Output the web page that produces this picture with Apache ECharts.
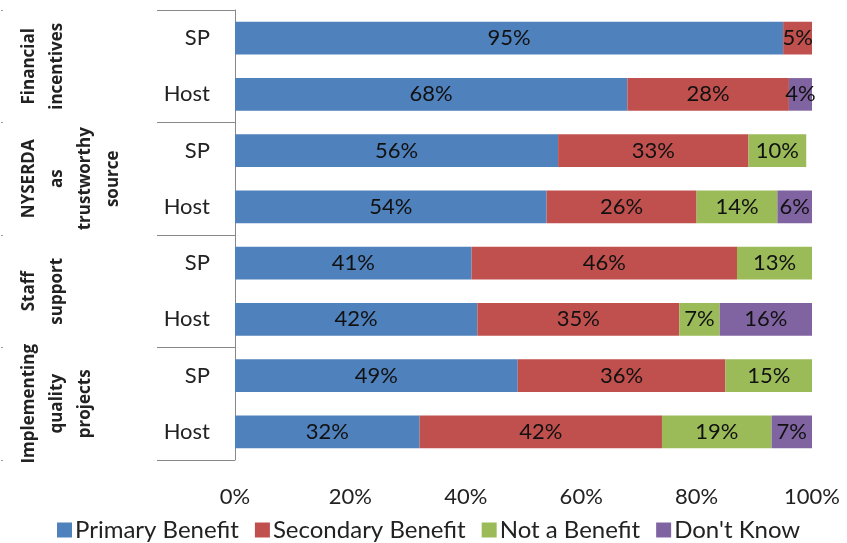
<!DOCTYPE html>
<html>
<head>
<meta charset="utf-8">
<script src="https://cdn.jsdelivr.net/npm/echarts@6/dist/echarts.min.js"></script>
<style>
  html, body { margin: 0; padding: 0; background: #fff; }
  #chart { width: 847px; height: 543px; }
</style>
</head>
<body>
<div id="chart"></div>
<script>
// Benefit ratings by topic, split into SP and Host respondents (percent)
const groups = ['Financial\nincentives', 'NYSERDA\nas\ntrustworthy\nsource', 'Staff\nsupport', 'Implementing\nquality\nprojects'];
const roles = ['SP', 'Host'];
const seriesNames = ['Primary Benefit', 'Secondary Benefit', 'Not a Benefit', "Don't Know"];
const colors = ['#4F81BD', '#C0504D', '#9BBB59', '#8064A2'];

// rows in order: Financial SP, Financial Host, NYSERDA SP, NYSERDA Host, Staff SP, Staff Host, Implementing SP, Implementing Host
const primaryBenefit   = [95, 68, 56, 54, 41, 42, 49, 32];
const secondaryBenefit = [5, 28, 33, 26, 46, 35, 36, 42];
const notABenefit      = [0, 0, 10, 14, 13, 7, 15, 19];
const dontKnow         = [0, 4, 0, 6, 0, 16, 0, 7];

const xTicks = [0, 20, 40, 60, 80, 100];

const rowKeys = [];
groups.forEach((g, gi) => roles.forEach(r => rowKeys.push(gi + '|' + r)));
const groupKeys = groups.map((g, gi) => 'g' + gi);

const seriesValues = [primaryBenefit, secondaryBenefit, notABenefit, dontKnow];
const FONT = 'Lato';

const chart = echarts.init(document.getElementById('chart'), null, { renderer: 'canvas' });

const option = {
  animation: false,
  color: colors,
  textStyle: { fontFamily: FONT },
  grid: { left: 235, right: 35, top: 10, bottom: 83, containLabel: false },
  legend: {
    data: seriesNames,
    left: 52,
    top: 513,
    icon: 'rect',
    itemWidth: 15,
    itemHeight: 15,
    itemGap: 16,
    textStyle: { fontFamily: FONT, fontSize: 24, color: '#222', padding: [0, 0, 0, -2] }
  },
  xAxis: {
    type: 'value',
    min: 0,
    max: 100,
    interval: 20,
    axisLine: { show: false },
    axisTick: { show: false },
    splitLine: { show: false },
    axisLabel: {
      margin: 26,
      fontFamily: FONT,
      fontSize: 22,
      color: '#222',
      formatter: v => xTicks.indexOf(v) >= 0 ? v + '%' : ''
    }
  },
  yAxis: [
    {
      type: 'category',
      data: rowKeys,
      inverse: true,
      axisLine: { show: true, lineStyle: { color: '#888', width: 1 } },
      axisTick: { show: true, interval: 1, length: 78, lineStyle: { color: '#888', width: 1 } },
      axisLabel: {
        margin: 25,
        fontFamily: FONT,
        fontSize: 22,
        color: '#222',
        formatter: v => v.split('|')[1]
      }
    },
    {
      type: 'category',
      data: groupKeys,
      inverse: true,
      position: 'left',
      offset: 232,
      axisLine: { show: false },
      axisTick: { show: true, length: 2, lineStyle: { color: '#999' } },
      axisLabel: { show: false }
    }
  ],
  series: seriesNames.map((name, si) => ({
    name: name,
    type: 'bar',
    stack: 'total',
    barWidth: '58%',
    yAxisIndex: 0,
    data: seriesValues[si],
    itemStyle: { color: colors[si] },
    label: {
      show: true,
      position: 'inside',
      fontFamily: FONT,
      fontSize: 22,
      color: '#111',
      formatter: p => p.value > 0 ? p.value + '%' : ''
    }
  }))
};

chart.setOption(option);

// Rotated group titles, centred on each group's band of the group axis
const lineH = 28;
chart.setOption({
  graphic: groups.map((g, gi) => {
    const cy = chart.convertToPixel({ yAxisIndex: 1 }, groupKeys[gi]);
    return {
      type: 'text',
      x: 15,
      y: cy,
      rotation: Math.PI / 2,
      style: {
        text: g,
        fontFamily: 'Open Sans',
        fontWeight: 'bold',
        fontSize: 17,
        lineHeight: lineH,
        fill: '#222',
        align: 'center',
        verticalAlign: 'top'
      }
    };
  })
});
</script>
</body>
</html>
